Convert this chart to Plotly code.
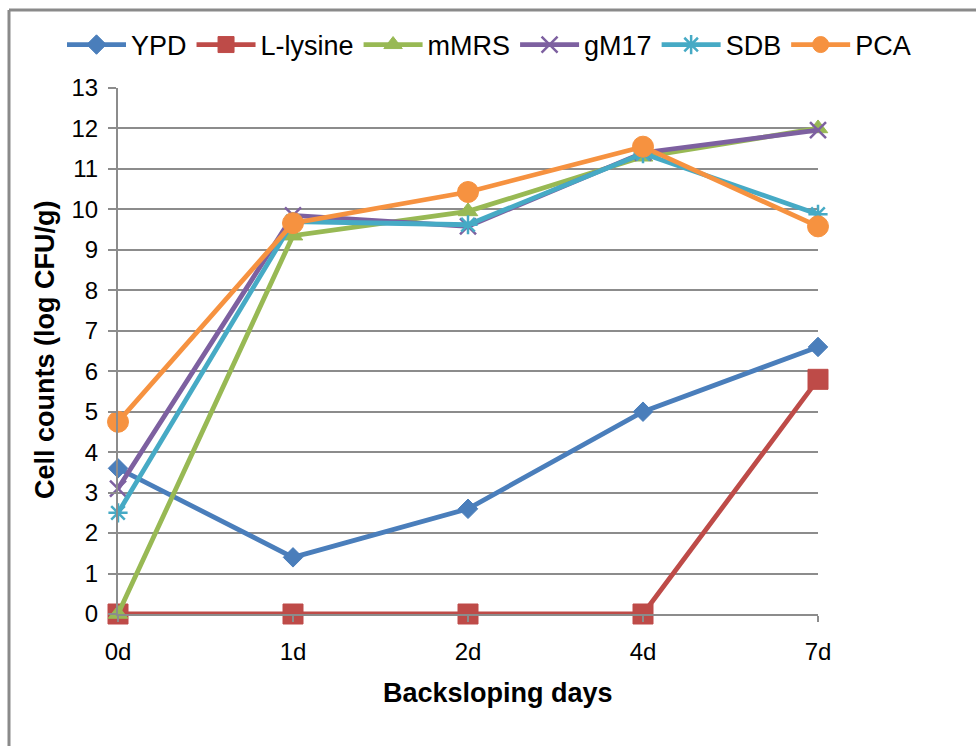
import plotly.graph_objects as go

# Cell counts (log CFU/g) on each medium over the backsloping days
days = ["0d", "1d", "2d", "4d", "7d"]
ypd = [3.6, 1.4, 2.6, 5.0, 6.6]
l_lysine = [0, 0, 0, 0, 5.8]
mmrs = [0, 9.35, 9.95, 11.3, 12.0]
gm17 = [3.1, 9.85, 9.58, 11.4, 11.96]
sdb = [2.5, 9.7, 9.62, 11.38, 9.88]
pca = [4.75, 9.66, 10.43, 11.55, 9.58]
y_ticks = list(range(0, 14))

W, H = 976, 746
L, R, T, B = 118, 158, 88, 132
FONT = "Liberation Sans, Arial, sans-serif"
GRID = "#8c8c8c"

series = [
    ("YPD", ypd, "#4a7ebb", dict(symbol="diamond", size=15)),
    ("L-lysine", l_lysine, "#be4b48", dict(symbol="square", size=20)),
    ("mMRS", mmrs, "#98b954", dict(symbol="triangle-up", size=17)),
    ("gM17", gm17, "#7d60a0", dict(symbol="x-thin-open", size=16)),
    ("SDB", sdb, "#46aac5", dict(symbol="asterisk-open", size=16)),
    ("PCA", pca, "#f69240", dict(symbol="circle", size=21)),
]

xpos = list(range(len(days)))

fig = go.Figure()
for name, vals, color, mk in series:
    open_sym = mk["symbol"].endswith("-open")
    fig.add_trace(go.Scatter(
        x=xpos, y=vals, name=name, mode="lines+markers",
        line=dict(color=color, width=4.8),
        marker=dict(symbol=mk["symbol"], size=mk["size"], color=color,
                    line=dict(color=color, width=2.5 if open_sym else 1)),
        cliponaxis=False,
    ))


def px_x(p):
    return (p - L) / (W - L - R)


def px_y(p):
    return (H - B - p) / (H - T - B)


fig.update_layout(
    width=W, height=H,
    margin=dict(l=L, r=R, t=T, b=B, autoexpand=False),
    paper_bgcolor="white", plot_bgcolor="white",
    font=dict(family=FONT, color="#000000", size=24),
    showlegend=True,
    legend=dict(orientation="h", x=px_x(916), xanchor="right",
                y=px_y(45), yanchor="middle",
                font=dict(size=27, family=FONT), itemwidth=59,
                bgcolor="rgba(0,0,0,0)"),
    xaxis=dict(range=[0, len(days) - 1], tickmode="array", tickvals=xpos,
               ticktext=days, showgrid=False, zeroline=False,
               showline=True, linecolor=GRID, linewidth=2,
               ticks="outside", ticklen=6, tickwidth=2, tickcolor=GRID,
               ticklabelstandoff=9, tickfont=dict(size=24)),
    yaxis=dict(range=[0, 13], tickmode="array", tickvals=y_ticks,
               showgrid=True, gridcolor=GRID, gridwidth=2, zeroline=False,
               showline=True, linecolor=GRID, linewidth=2,
               ticks="outside", ticklen=8, tickwidth=2, tickcolor=GRID,
               ticklabelstandoff=5, tickfont=dict(size=24)),
    annotations=[
        dict(text="<b>Backsloping days</b>", xref="paper", yref="paper",
             x=px_x(498), y=px_y(693), xanchor="center", yanchor="middle",
             showarrow=False, font=dict(size=27, family=FONT)),
        dict(text="<b>Cell counts (log CFU/g)</b>", xref="paper", yref="paper",
             x=px_x(45), y=px_y(350), xanchor="center", yanchor="middle",
             textangle=-90, showarrow=False, font=dict(size=27, family=FONT)),
    ],
    shapes=[
        dict(type="line", xref="paper", yref="paper",
             x0=px_x(9), x1=px_x(W + 2), y0=px_y(10), y1=px_y(10),
             line=dict(color="#8a8a8a", width=3)),
        dict(type="line", xref="paper", yref="paper",
             x0=px_x(9), x1=px_x(9), y0=px_y(10), y1=px_y(H + 2),
             line=dict(color="#8a8a8a", width=3)),
    ],
)

fig.write_html("out.html")
